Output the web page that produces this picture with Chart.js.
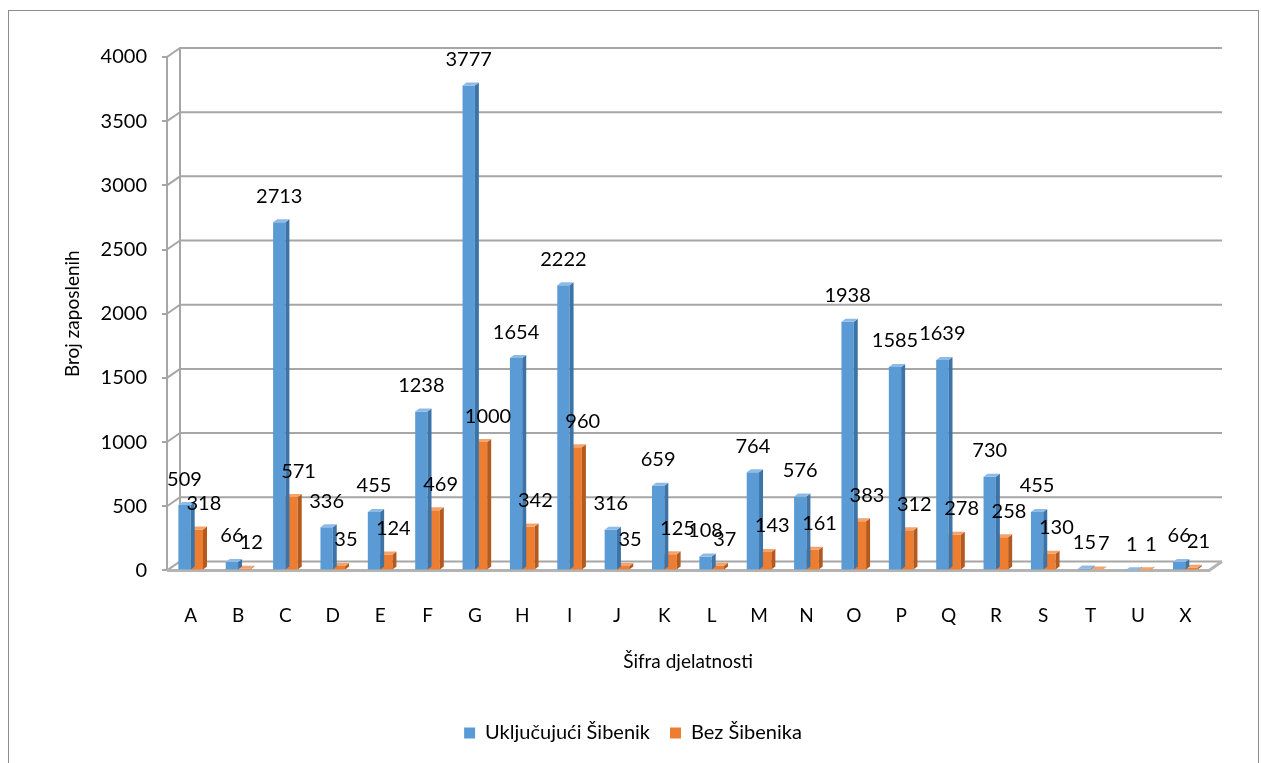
<!DOCTYPE html>
<html>
<head>
<meta charset="utf-8">
<script src="https://cdn.jsdelivr.net/npm/chart.js@4"></script>
<style>
  html, body { margin: 0; padding: 0; background: #fff; }
  #wrap { position: relative; width: 1261px; height: 763px; }
  #frame { position: absolute; left: 8px; top: 10px; width: 1249px; height: 780px; border: 1px solid #8c8c8c; }
  canvas { position: absolute; left: 0; top: 0; }
</style>
</head>
<body>
<div id="wrap">
  <div id="frame"></div>
  <canvas id="myChart" width="1261" height="763"></canvas>
</div>
<script>
// categories (activity codes)
const categories = ['A','B','C','D','E','F','G','H','I','J','K','L','M','N','O','P','Q','R','S','T','U','X'];
// employees incl. Šibenik
const withSibenik = [509, 66, 2713, 336, 455, 1238, 3777, 1654, 2222, 316, 659, 108, 764, 576, 1938, 1585, 1639, 730, 455, 15, 1, 66];
// employees without Šibenik
const withoutSibenik = [318, 12, 571, 35, 124, 469, 1000, 342, 960, 35, 125, 37, 143, 161, 383, 312, 278, 258, 130, 7, 1, 21];
const yTicks = [0, 500, 1000, 1500, 2000, 2500, 3000, 3500, 4000];

const FONT = 'Lato, "Noto Sans", sans-serif';
const GRID = '#a6a6a6';
const DX = 13, DY = 9; // back wall offset

// back wall grid lines + floor
const wallPlugin = {
  id: 'wall',
  beforeDatasetsDraw(chart) {
    const ctx = chart.ctx, y = chart.scales.y, a = chart.chartArea;
    ctx.save();
    ctx.strokeStyle = GRID;
    ctx.lineWidth = 2;
    yTicks.forEach(function(v) {
      const yp = y.getPixelForValue(v);
      ctx.beginPath();
      ctx.moveTo(a.left, yp);
      ctx.lineTo(a.left + DX, yp - DY);
      ctx.lineTo(a.right + DX, yp - DY);
      ctx.stroke();
    });
    // back wall vertical
    ctx.beginPath();
    ctx.moveTo(a.left + DX, y.getPixelForValue(4000) - DY);
    ctx.lineTo(a.left + DX, a.bottom - DY);
    ctx.stroke();
    // floor front edge
    ctx.lineWidth = 3;
    ctx.strokeStyle = '#b4b4b4';
    ctx.beginPath();
    ctx.moveTo(a.left, a.bottom);
    ctx.lineTo(a.right, a.bottom);
    ctx.lineTo(a.right + DX, a.bottom - DY);
    ctx.stroke();
    ctx.restore();
  }
};

// 3d faces on bars
const shades = [
  { side: '#3c74a8', top: '#8dbbe6' },
  { side: '#b55a1e', top: '#f4a36b' }
];
const barPlugin = {
  id: 'bar3d',
  afterDatasetDraw(chart, args) {
    const ctx = chart.ctx;
    const meta = args.meta;
    const s = shades[args.index];
    const dx = 4, dy = 3;
    ctx.save();
    meta.data.forEach(function(bar) {
      const w = bar.width / 2;
      const top = bar.y, base = bar.base;
      ctx.fillStyle = s.side;
      ctx.beginPath();
      ctx.moveTo(bar.x + w, top);
      ctx.lineTo(bar.x + w + dx, top - dy);
      ctx.lineTo(bar.x + w + dx, base - dy);
      ctx.lineTo(bar.x + w, base);
      ctx.closePath();
      ctx.fill();
      ctx.fillStyle = s.top;
      ctx.beginPath();
      ctx.moveTo(bar.x - w, top);
      ctx.lineTo(bar.x - w + dx, top - dy);
      ctx.lineTo(bar.x + w + dx, top - dy);
      ctx.lineTo(bar.x + w, top);
      ctx.closePath();
      ctx.fill();
    });
    ctx.restore();
  },
  afterDatasetsDraw(chart) {
    const ctx = chart.ctx;
    ctx.save();
    ctx.font = '20px ' + FONT;
    ctx.fillStyle = '#000';
    ctx.textAlign = 'center';
    ctx.textBaseline = 'middle';
    chart.data.datasets.forEach(function(ds, i) {
      const meta = chart.getDatasetMeta(i);
      meta.data.forEach(function(bar, j) {
        const off = i === 1 ? 7 : 0;
        ctx.fillText(String(ds.data[j]), bar.x + off, bar.y - 26);
      });
    });
    ctx.restore();
  }
};

const ctx = document.getElementById('myChart').getContext('2d');
const chart = new Chart(ctx, {
  type: 'bar',
  data: {
    labels: categories,
    datasets: [{
      label: 'Uključujući Šibenik',
      data: withSibenik,
      backgroundColor: '#5b9bd5',
      barPercentage: 1,
      categoryPercentage: 0.52
    }, {
      label: 'Bez Šibenika',
      data: withoutSibenik,
      backgroundColor: '#ed7d31',
      barPercentage: 1,
      categoryPercentage: 0.52
    }]
  },
  options: {
    responsive: false,
    animation: false,
    layout: { padding: { left: 57, right: 52, top: 57, bottom: 10 } },
    plugins: {
      legend: {
        position: 'bottom',
        labels: {
          font: { family: FONT, size: 20 },
          color: '#000',
          boxWidth: 11,
          boxHeight: 11,
          padding: 20
        }
      },
      tooltip: { enabled: false }
    },
    scales: {
      x: {
        grid: { display: false, drawTicks: false },
        border: { display: false },
        ticks: { font: { family: FONT, size: 19 }, color: '#000', padding: 34 },
        title: {
          display: true,
          text: 'Šifra djelatnosti',
          font: { family: FONT, size: 19 },
          color: '#000',
          padding: { top: -11, bottom: 30 }
        }
      },
      y: {
        min: 0,
        max: 4000,
        afterFit(scale) { scale.width = 110; },
        afterBuildTicks(scale) { scale.ticks = yTicks.map(function(v) { return { value: v }; }); },
        grid: { drawOnChartArea: false, drawTicks: true, tickLength: 5, color: GRID, lineWidth: 2 },
        border: { display: true, color: GRID, width: 2 },
        ticks: {
          font: { family: FONT, size: 20 },
          color: '#000',
          padding: 15,
          callback: function(v) { return String(v); }
        },
        title: {
          display: true,
          text: 'Broj zaposlenih',
          font: { family: FONT, size: 19 },
          color: '#000'
        }
      }
    }
  },
  plugins: [wallPlugin, barPlugin]
});
</script>
</body>
</html>
